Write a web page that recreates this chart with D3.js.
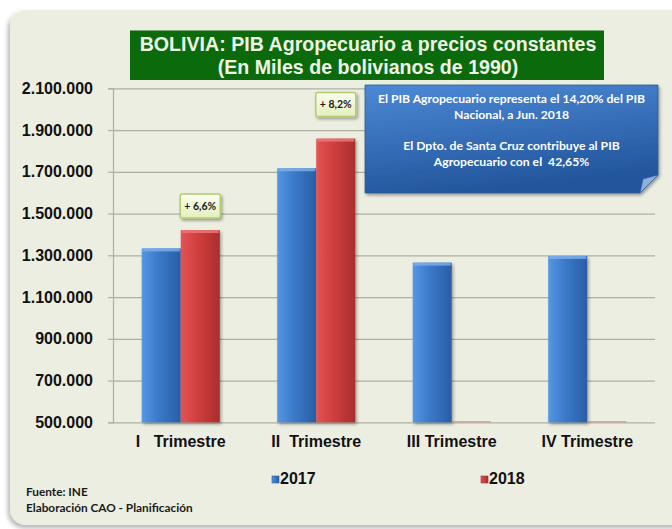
<!DOCTYPE html>
<html>
<head>
<meta charset="utf-8">
<script src="https://cdn.jsdelivr.net/npm/d3@7"></script>
<style>
  html, body { margin: 0; padding: 0; background: #ffffff; }
  svg { display: block; }
  .tick text { font-family: "Liberation Sans", Arial, sans-serif; font-weight: bold; fill: #111; }
</style>
</head>
<body>
<div id="chart"></div>
<script>
// data
const categories = ["I   Trimestre", "II  Trimestre", "III Trimestre", "IV Trimestre"];
const seriesNames = ["2017", "2018"];
const values2017 = [1333000, 1717000, 1265000, 1297000];
const values2018 = [1421000, 1859000, 0, 0];
const growthLabels = ["+ 6,6%", "+ 8,2%", null, null];
const yTicks = [500000, 700000, 900000, 1100000, 1300000, 1500000, 1700000, 1900000, 2100000];
const titleLines = ["BOLIVIA:  PIB Agropecuario a precios constantes", "(En Miles de bolivianos de 1990)"];
const noteLines = ["El PIB Agropecuario representa el 14,20% del PIB", "Nacional, a Jun. 2018", "", "El Dpto. de Santa Cruz contribuye al PIB", "Agropecuario con el  42,65%"];
const sourceLines = ["Fuente: INE", "Elaboración CAO - Planificación"];

const W = 672, H = 529;
const plot = {left: 113, right: 655, top: 88.3, bottom: 422.3};
const seriesColors = {"2017": ["#5597e4", "#3a78c8", "#2a5ea6"], "2018": ["#e35454", "#d03d3d", "#a82e2e"]};

const svg = d3.select("#chart").append("svg")
  .attr("width", W)
  .attr("height", H);

const defs = svg.append("defs");

// gradients for bars
seriesNames.forEach(s => {
  const g = defs.append("linearGradient").attr("id", "grad" + s)
    .attr("x1", 0).attr("x2", 1).attr("y1", 0).attr("y2", 0);
  g.append("stop").attr("offset", "0%").attr("stop-color", seriesColors[s][0]);
  g.append("stop").attr("offset", "45%").attr("stop-color", seriesColors[s][1]);
  g.append("stop").attr("offset", "100%").attr("stop-color", seriesColors[s][2]);
});

const noteGrad = defs.append("linearGradient").attr("id", "noteGrad")
  .attr("x1", 0).attr("x2", 0.3).attr("y1", 0).attr("y2", 1);
noteGrad.append("stop").attr("offset", "0%").attr("stop-color", "#4c89d6");
noteGrad.append("stop").attr("offset", "100%").attr("stop-color", "#23569c");

const labelGrad = defs.append("linearGradient").attr("id", "labelGrad")
  .attr("x1", 0).attr("x2", 0).attr("y1", 0).attr("y2", 1);
labelGrad.append("stop").attr("offset", "0%").attr("stop-color", "#fbfdef");
labelGrad.append("stop").attr("offset", "100%").attr("stop-color", "#e3efbd");

const shadow = defs.append("filter").attr("id", "shadow")
  .attr("x", "-10%").attr("y", "-10%").attr("width", "130%").attr("height", "130%");
shadow.append("feDropShadow").attr("dx", 1.5).attr("dy", 2).attr("stdDeviation", 1.5)
  .attr("flood-color", "#000").attr("flood-opacity", 0.35);

const panelShadow = defs.append("filter").attr("id", "panelShadow")
  .attr("x", "-5%").attr("y", "-5%").attr("width", "110%").attr("height", "110%");
panelShadow.append("feDropShadow").attr("dx", -2).attr("dy", 3).attr("stdDeviation", 2.5)
  .attr("flood-color", "#000").attr("flood-opacity", 0.3);

// background panel
svg.append("rect")
  .attr("x", 10).attr("y", 10)
  .attr("width", 690).attr("height", 515)
  .attr("rx", 16)
  .attr("fill", "#eceee1")
  .attr("filter", "url(#panelShadow)");

// scales
const y = d3.scaleLinear()
  .domain([500000, 2100000])
  .range([plot.bottom, plot.top])
  .clamp(true);

const x0 = d3.scaleBand()
  .domain(categories)
  .range([plot.left, plot.right]);

const x1 = d3.scaleBand()
  .domain(seriesNames)
  .range([x0.bandwidth() * 0.212, x0.bandwidth() * 0.788]);

const locale = d3.formatLocale({decimal: ",", thousands: ".", grouping: [3], currency: ["", ""]});
const fmt = locale.format(",.0f");

// gridlines
svg.append("g")
  .attr("class", "grid")
  .attr("transform", `translate(${plot.left},0)`)
  .call(d3.axisLeft(y).tickValues(yTicks).tickSize(-(plot.right - plot.left)).tickFormat(""))
  .call(g => g.select(".domain").remove())
  .call(g => g.selectAll("line").attr("stroke", "#aeb0a2").attr("stroke-width", 1.2));

// y axis
svg.append("g")
  .attr("class", "y-axis")
  .attr("transform", `translate(${plot.left},0)`)
  .call(d3.axisLeft(y).tickValues(yTicks).tickSize(5).tickPadding(15).tickFormat(fmt))
  .call(g => g.select(".domain").attr("stroke", "#aeb0a2").attr("stroke-width", 1.2))
  .call(g => g.selectAll(".tick line").attr("stroke", "#aeb0a2").attr("stroke-width", 1.2))
  .call(g => g.selectAll(".tick text").attr("font-size", 16));

// x axis labels
svg.append("g")
  .attr("class", "x-axis")
  .attr("transform", `translate(0,${plot.bottom})`)
  .call(d3.axisBottom(x0).tickSize(0).tickPadding(13))
  .call(g => g.select(".domain").remove())
  .call(g => g.selectAll(".tick text")
    .attr("font-size", 16)
    .style("white-space", "pre"));

// bars
const rows = categories.map((c, i) => ({cat: c, vals: [
  {key: "2017", value: values2017[i]},
  {key: "2018", value: values2018[i]}
]}));

const groups = svg.append("g").attr("class", "bars")
  .selectAll("g")
  .data(rows)
  .enter().append("g")
  .attr("transform", d => `translate(${x0(d.cat)},0)`);

const bars = groups.selectAll("g.bar")
  .data(d => d.vals)
  .enter().append("g")
  .attr("class", "bar");

bars.append("rect")
  .attr("x", d => x1(d.key))
  .attr("y", d => Math.min(y(d.value), plot.bottom - 1))
  .attr("width", x1.bandwidth())
  .attr("height", d => Math.max(1, plot.bottom - y(d.value)))
  .attr("fill", d => d.value > y.domain()[0] ? `url(#grad${d.key})` : "#e88080")
  .attr("filter", d => d.value > y.domain()[0] ? "url(#shadow)" : null);

// top bevel highlight
bars.filter(d => d.value > y.domain()[0])
  .append("rect")
  .attr("x", d => x1(d.key) + 1)
  .attr("y", d => y(d.value))
  .attr("width", x1.bandwidth() - 2)
  .attr("height", 3)
  .attr("fill", d => d.key === "2017" ? "#7fb2ee" : "#ee7a7a")
  .attr("opacity", 0.8);

// growth labels above the 2018 bars
const labelLift = [12, 22];
const labelData = rows.map((r, i) => ({cat: r.cat, value: values2018[i], text: growthLabels[i], lift: labelLift[i]}))
  .filter(d => d.text);

const lbl = svg.append("g").attr("class", "growth")
  .selectAll("g")
  .data(labelData)
  .enter().append("g")
  .attr("transform", d => `translate(${x0(d.cat) + x1("2018") + x1.bandwidth() / 2},${y(d.value) - d.lift})`);

lbl.append("rect")
  .attr("x", -20).attr("y", -24)
  .attr("width", 40).attr("height", 24)
  .attr("rx", 2)
  .attr("fill", "url(#labelGrad)")
  .attr("stroke", "#b3cc72")
  .attr("stroke-width", 1.5)
  .attr("filter", "url(#shadow)");

lbl.append("text")
  .attr("y", -8.5)
  .attr("text-anchor", "middle")
  .attr("font-family", "Lato, 'Open Sans', sans-serif")
  .attr("font-weight", "bold")
  .attr("font-size", 10.5)
  .attr("fill", "#1b1b1b")
  .text(d => d.text);

// title
svg.append("rect")
  .attr("x", 130).attr("y", 30.5)
  .attr("width", 474).attr("height", 49.5)
  .attr("fill", "#0b6b0c");

svg.append("g").selectAll("text")
  .data(titleLines)
  .enter().append("text")
  .attr("x", 368)
  .attr("y", (d, i) => 51 + i * 23)
  .attr("text-anchor", "middle")
  .attr("font-family", "'Liberation Sans', Arial, sans-serif")
  .attr("font-weight", "bold")
  .attr("font-size", 19.6)
  .attr("fill", "#eef3e6")
  .text(d => d);

// note callout with folded corner
const nb = {x: 365, y: 85, w: 293, h: 108, fold: 18};
svg.append("path")
  .attr("d", `M${nb.x},${nb.y} H${nb.x + nb.w} V${nb.y + nb.h - nb.fold} L${nb.x + nb.w - nb.fold},${nb.y + nb.h} H${nb.x} Z`)
  .attr("fill", "url(#noteGrad)")
  .attr("stroke", "#2c5a98")
  .attr("stroke-width", 0.8)
  .attr("filter", "url(#shadow)");

svg.append("path")
  .attr("d", `M${nb.x + nb.w},${nb.y + nb.h - nb.fold} L${nb.x + nb.w - nb.fold},${nb.y + nb.h} L${nb.x + nb.w - nb.fold + 3},${nb.y + nb.h - nb.fold + 4} Z`)
  .attr("fill", "#8fb0dc")
  .attr("stroke", "#2c5a98")
  .attr("stroke-width", 0.6);

svg.append("g").selectAll("text")
  .data(noteLines)
  .enter().append("text")
  .attr("x", nb.x + nb.w / 2)
  .attr("y", (d, i) => 103 + i * 15.7)
  .attr("text-anchor", "middle")
  .attr("font-family", "Lato, 'Open Sans', sans-serif")
  .attr("font-weight", "bold")
  .attr("font-size", 12.2)
  .attr("fill", "#ffffff")
  .style("white-space", "pre")
  .text(d => d);

// legend
const legendX = [272, 481];
const legend = svg.append("g").attr("class", "legend")
  .selectAll("g")
  .data(seriesNames)
  .enter().append("g")
  .attr("transform", (d, i) => `translate(${legendX[i]},476)`);

legend.append("rect")
  .attr("width", 7).attr("height", 7)
  .attr("fill", d => `url(#grad${d})`)
  .attr("stroke", d => seriesColors[d][2])
  .attr("stroke-width", 0.6);

legend.append("text")
  .attr("x", 8)
  .attr("y", 7.5)
  .attr("font-family", "'Liberation Sans', Arial, sans-serif")
  .attr("font-weight", "bold")
  .attr("font-size", 16)
  .attr("fill", "#111")
  .text(d => d);

// source
svg.append("g").selectAll("text")
  .data(sourceLines)
  .enter().append("text")
  .attr("x", 26)
  .attr("y", (d, i) => 495.5 + i * 16)
  .attr("font-family", "Lato, 'Open Sans', sans-serif")
  .attr("font-weight", "bold")
  .attr("font-size", 11.8)
  .attr("fill", "#1a1a1a")
  .text(d => d);
</script>
</body>
</html>
